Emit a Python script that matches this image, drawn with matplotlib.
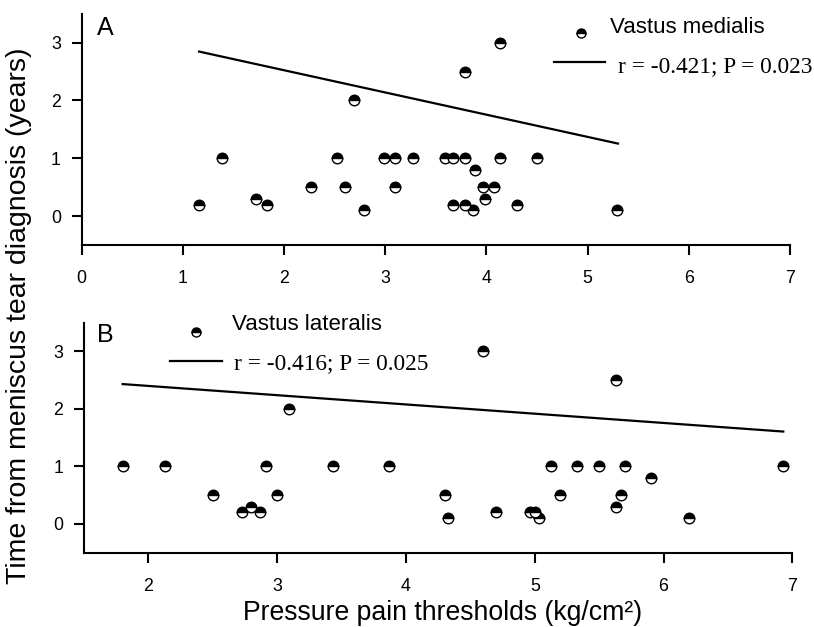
import matplotlib
matplotlib.use("Agg")
import matplotlib.pyplot as plt
from matplotlib.lines import Line2D

# ---- Data ----
vm_ppt = [1.16, 1.39, 1.72, 1.83, 2.27, 2.52, 2.60, 2.69, 2.79, 2.99, 3.10, 3.10,
          3.27, 3.59, 3.67, 3.67, 3.79, 3.79, 3.79, 3.89, 3.87, 3.97, 3.99, 4.07,
          4.13, 4.13, 4.30, 4.50, 5.29]
vm_time = [0.2, 1.0, 0.3, 0.2, 0.5, 1.0, 0.5, 2.0, 0.1, 1.0, 1.0, 0.5,
           1.0, 1.0, 1.0, 0.2, 1.0, 2.5, 0.2, 0.8, 0.1, 0.5, 0.3, 0.5,
           1.0, 3.0, 0.2, 1.0, 0.1]
vm_fit_x = [1.16, 5.30]
vm_fit_y = [2.845, 1.254]

vl_ppt = [1.80, 2.13, 2.50, 2.73, 2.80, 2.87, 2.91, 3.00, 3.09, 3.43, 3.87,
          4.30, 4.33, 4.60, 4.70, 4.96, 5.00, 5.03, 5.13, 5.20, 5.33, 5.50,
          5.63, 5.63, 5.67, 5.70, 5.90, 6.20, 6.93]
vl_time = [1.0, 1.0, 0.5, 0.2, 0.3, 0.2, 1.0, 0.5, 2.0, 1.0, 1.0,
           0.5, 0.1, 3.0, 0.2, 0.2, 0.2, 0.1, 1.0, 0.5, 1.0, 1.0,
           2.5, 0.3, 0.5, 1.0, 0.8, 0.1, 1.0]
vl_fit_x = [1.80, 6.93]
vl_fit_y = [2.43, 1.605]

top_xticks = [0, 1, 2, 3, 4, 5, 6, 7]
bot_xticks = [2, 3, 4, 5, 6, 7]
yticks = [0, 1, 2, 3]

SANS = "Liberation Sans"
SERIF = "Liberation Serif"
plt.rcParams["font.family"] = SANS

W, H = 814, 627
fig = plt.figure(figsize=(W / 100, H / 100), dpi=100)


def px_axes(left, right, top, bottom):
    return [left / W, 1 - bottom / H, (right - left) / W, (bottom - top) / H]


ax1 = fig.add_axes(px_axes(81.7, 790, 13.7, 245))
ax2 = fig.add_axes(px_axes(84, 792.3, 322.5, 552.7))

mk = dict(linestyle="none", marker="o", fillstyle="top", markerfacecolor="black",
          markerfacecoloralt="white", markeredgecolor="black", markersize=7.6,
          markeredgewidth=1.0)

for ax in (ax1, ax2):
    for s in ("top", "right"):
        ax.spines[s].set_visible(False)
    for s in ("left", "bottom"):
        ax.spines[s].set_linewidth(1.5)
    ax.tick_params(direction="out", length=7.5, width=1.5, labelsize=12.8)
    ax.tick_params(axis="x", pad=10.5)
    ax.tick_params(axis="y", pad=7.5)
    ax.set_ylim(-0.5, 3.5)
    ax.set_yticks(yticks)

ax1.set_xlim(0, 7)
ax1.set_xticks(top_xticks)
ax2.set_xlim(1.5, 7)
ax2.set_xticks(bot_xticks)

ax1.plot(vm_fit_x, vm_fit_y, color="black", lw=1.6)
ax1.plot(vm_ppt, vm_time, **mk)
ax2.plot(vl_fit_x, vl_fit_y, color="black", lw=1.6)
ax2.plot(vl_ppt, vl_time, **mk)

# Panel letters
ax1.text(0.033, 0.908, "A", transform=ax1.transAxes, fontsize=18, ha="center", va="baseline")
ax2.text(0.0296, 0.9166, "B", transform=ax2.transAxes, fontsize=18, ha="center", va="baseline")

# Legend-like annotations (top)
ax1.add_line(Line2D([0.705], [0.9166], transform=ax1.transAxes, **dict(mk, markersize=6.5)))
ax1.text(0.746, 0.9166, "Vastus medialis", transform=ax1.transAxes, fontsize=16,
         ha="left", va="baseline")
ax1.add_line(Line2D([0.667, 0.739], [0.791, 0.791], transform=ax1.transAxes,
                    color="black", lw=1.6))
ax1.text(0.757, 0.749, "r = -0.421; P = 0.023", transform=ax1.transAxes, fontsize=16.8,
         family=SERIF, ha="left", va="baseline")

# Legend-like annotations (bottom)
ax2.add_line(Line2D([0.158], [0.958], transform=ax2.transAxes, **dict(mk, markersize=6.5)))
ax2.text(0.209, 0.967, "Vastus lateralis", transform=ax2.transAxes, fontsize=16,
         ha="left", va="baseline")
ax2.add_line(Line2D([0.1214, 0.1948], [0.833, 0.833], transform=ax2.transAxes,
                    color="black", lw=1.6))
ax2.text(0.2118, 0.797, "r = -0.416; P = 0.025", transform=ax2.transAxes, fontsize=16.8,
         family=SERIF, ha="left", va="baseline")

# Shared axis labels
fig.text(443 / W, 1 - 620 / H, "Pressure pain thresholds (kg/cm²)", fontsize=19.2,
         ha="center", va="baseline")
fig.text(19 / W, 1 - 316 / H, "Time from meniscus tear diagnosis (years)", fontsize=20.5,
         rotation=90, ha="center", va="center")

fig.savefig("out.png", dpi=100)
